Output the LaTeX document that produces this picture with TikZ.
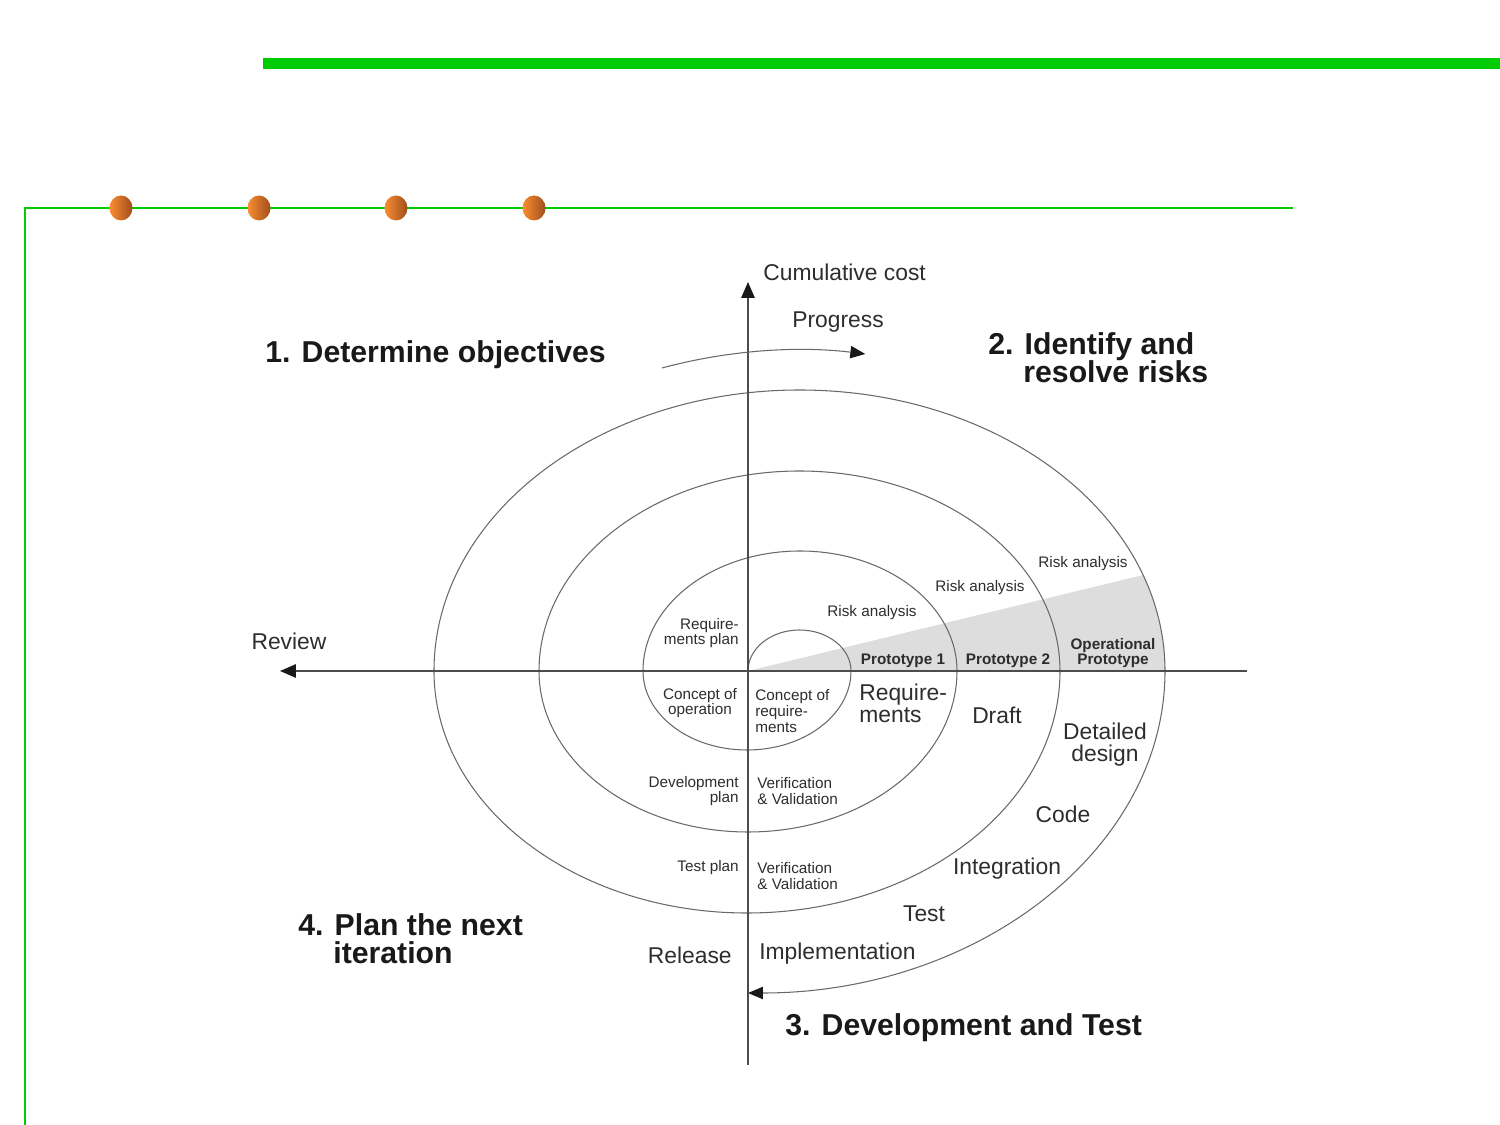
\documentclass[tikz,border=0pt]{standalone}
\usepackage{fontspec}
\setmainfont{Liberation Sans}
\usetikzlibrary{arrows.meta}
\definecolor{barGreen}{RGB}{0,204,0}
\definecolor{dotLight}{RGB}{250,142,52}
\definecolor{dotDark}{RGB}{160,78,26}
\definecolor{wedgeGray}{RGB}{221,221,221}
\definecolor{lineGray}{RGB}{105,105,105}
\definecolor{textGray}{RGB}{45,45,45}

\begin{document}
\lineskiplimit=-20pt
\begin{tikzpicture}[
				x=0.02cm, y=0.02cm,
				% 坐标轴、螺旋线和文字的统一样式
				axis/.style={->, line width=1.1pt, draw=black!70, >={Triangle[length=9pt,width=7.5pt,color=black!90]}},
				spiral/.style={->, line width=0.6pt, draw=lineGray, >={Triangle[length=8.5pt,width=7pt,color=black!90]}},
				big/.style={inner sep=0pt, text=textGray, font=\fontsize{13}{12.5}\selectfont},
				small/.style={inner sep=0pt, text=textGray, font=\fontsize{8.7}{9}\selectfont},
				proto/.style={small, font=\fontsize{8.7}{9}\selectfont\bfseries},
				heading/.style={inner sep=0pt, text=black!90, font=\fontsize{17.2}{16}\selectfont\bfseries}
				]
				\useasboundingbox (-748,-454) rectangle (752,671);
				
				% ----- 1. 页面装饰 -----
				% 顶部绿色粗条
				\fill[barGreen] (-485,602) rectangle (752,613);
				% 绿色细线框
				\coordinate (FrameR) at (545,463);
				\coordinate (FrameC) at (-723,463);
				\coordinate (FrameB) at (-723,-454);
				\draw[barGreen, line width=1.1pt] (FrameR) -- (FrameC) -- (FrameB);
				% 橙色圆点
				\foreach \x in {-627,-489,-352,-214}
					\shade[left color=dotLight, right color=dotDark] (\x,463) ellipse[x radius=11.5, y radius=12.5];
				
				% ----- 2. 定义关键点坐标 -----
				% O: 原点
				\coordinate (O) at (0,0);
				\coordinate (E) at (499,0);
				\coordinate (W) at (-468,0);
				\coordinate (S) at (0,-394);
				\coordinate (N) at (0,389);
				% 灰色区域的上边界点
				\coordinate (RiskEdge) at (395,96);
				% Progress 箭头起点
				\coordinate (ProgStart) at (-86,303);
				
				% ----- 3. 灰色原型区域 -----
				\fill[wedgeGray] (O) -- (RiskEdge) arc[start angle=20, end angle=0, x radius=365.5, y radius=281] -- cycle;
				
				% ----- 4. 螺旋线 -----
				\draw[spiral] (O)
					arc[start angle=180, end angle=0, x radius=51.5, y radius=41]
					arc[start angle=0, end angle=-180, x radius=104, y radius=79]
					arc[start angle=180, end angle=0, x radius=157, y radius=120]
					arc[start angle=0, end angle=-180, x radius=209, y radius=161]
					arc[start angle=180, end angle=0, x radius=260.5, y radius=200]
					arc[start angle=0, end angle=-180, x radius=313, y radius=242]
					arc[start angle=180, end angle=0, x radius=365.5, y radius=281]
					arc[start angle=0, end angle=-90, x radius=417, y radius=322];
				
				% ----- 5. 坐标轴 -----
				\draw[axis] (E) -- (W);
				\draw[axis] (S) -- (N);
				\draw[spiral] (ProgStart) arc[start angle=109.3, end angle=80.9, x radius=416, y radius=321];
				
				% ----- 6. 标签 -----
				\node[big, anchor=west] (cost) at (15,399) {Cumulative cost};
				\node[big] (progress) at (90,349) {Progress};
				\node[big] (review) at (-459,30) {Review};
				\node[heading, anchor=west] (step1) at (-483,316) {1. Determine objectives};
				\node[heading, anchor=west, align=left] (step2) at (240,313) {2. Identify and\\\hspace*{1.16em}resolve risks};
				\node[heading, anchor=west] (step3) at (37,-357) {3. Development and Test};
				\node[heading, anchor=west, align=left] (step4) at (-450,-268) {4. Plan the next\\\hspace*{1.16em}iteration};
				
				% 第一象限
				\node[small] (risk1) at (124,58) {Risk analysis};
				\node[small] (risk2) at (232,83) {Risk analysis};
				\node[small] (risk3) at (335,107) {Risk analysis};
				\node[proto] (proto1) at (155,10) {Prototype 1};
				\node[proto] (proto2) at (260,10) {Prototype 2};
				\node[proto, align=center] (protoop) at (365,18) {Operational\\Prototype};
				
				% 第二、三象限
				\node[small, anchor=east, align=right] (reqplan) at (-9,38) {Require-\\ments plan};
				\node[small, align=center] (conop) at (-48,-32) {Concept of\\operation};
				\node[small, anchor=east, align=right] (devplan) at (-9,-120) {Development\\plan};
				\node[small, anchor=east] (testplan) at (-9,-197) {Test plan};
				\node[big, anchor=east] (release) at (-16,-284) {Release};
				
				% 第四象限
				\node[small, anchor=west, align=left] (conreq) at (7,-40) {Concept of\\require-\\ments};
				\node[big, anchor=west, align=left] (req) at (111,-32) {Require-\\ments};
				\node[big] (draft) at (249,-44) {Draft};
				\node[big, align=center] (design) at (357,-74) {Detailed\\design};
				\node[big] (code) at (315,-143) {Code};
				\node[big] (integ) at (259,-198) {Integration};
				\node[big] (test) at (176,-243) {Test};
				\node[big, anchor=west] (impl) at (11,-283) {Implementation};
				\node[small, anchor=west, align=left] (vv1) at (9,-120) {Verification\\\& Validation};
				\node[small, anchor=west, align=left] (vv2) at (9,-205) {Verification\\\& Validation};
				
			\end{tikzpicture}
\end{document}
